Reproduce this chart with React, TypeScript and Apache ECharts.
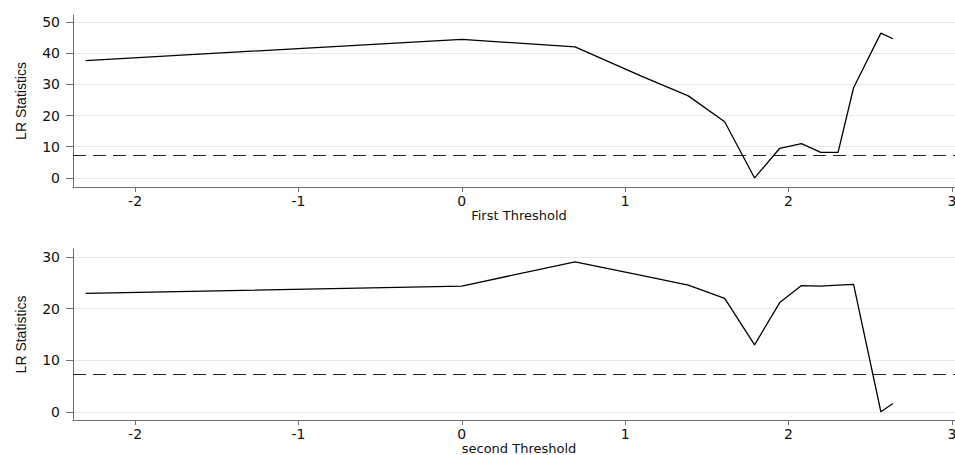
import React, { useEffect, useRef } from "react";
import * as echarts from "echarts";

// Threshold grid (log scale values)
const thresholds = [-2.303, 0, 0.693, 1.099, 1.386, 1.609, 1.792, 1.946, 2.079, 2.197, 2.303, 2.398, 2.565, 2.639];
const firstLR = [37.6, 44.4, 42.0, 32.6, 26.3, 18.0, 0.0, 9.5, 11.0, 8.2, 8.2, 28.9, 46.4, 44.6];
const secondLR = [23.0, 24.4, 29.1, 26.5, 24.6, 22.0, 13.0, 21.2, 24.5, 24.4, 24.6, 24.75, 0.0, 1.6];
const criticalValue = 7.35;
const xTicks = [-2, -1, 0, 1, 2, 3];
const yTicksTop = [0, 10, 20, 30, 40, 50];
const yTicksBottom = [0, 10, 20, 30];
const xTitles = ["First Threshold", "second Threshold"];
const yTitle = "LR Statistics";

const labelFont = { fontFamily: "DejaVu Sans", fontSize: 14, color: "#111" };
const axisGray = "#707070";

function makeX(gridIndex: number, name: string, gap: number) {
  return {
    type: "value",
    gridIndex,
    min: -2.38,
    max: 3.08,
    name,
    nameLocation: "middle",
    nameGap: gap,
    nameTextStyle: { fontFamily: "DejaVu Sans", fontSize: 13, lineHeight: 13, color: "#111" },
    axisLine: { show: true, onZero: false, lineStyle: { color: axisGray, width: 1 } },
    axisTick: { show: true, length: 5, customValues: xTicks, lineStyle: { color: axisGray } },
    axisLabel: { show: true, margin: 7, customValues: xTicks, ...labelFont, showMinLabel: true, showMaxLabel: true },
    splitLine: { show: false },
  };
}

function makeY(gridIndex: number, min: number, max: number, ticks: number[]) {
  return {
    type: "value",
    gridIndex,
    min,
    max,
    name: yTitle,
    nameLocation: "middle",
    nameGap: 45,
    nameTextStyle: { fontFamily: "Liberation Sans", fontSize: 14, color: "#111" },
    axisLine: { show: true, onZero: false, lineStyle: { color: axisGray, width: 1 } },
    axisTick: { show: true, length: 7, customValues: ticks, lineStyle: { color: axisGray } },
    axisLabel: { show: true, margin: 13, customValues: ticks, ...labelFont },
    splitLine: { show: true, lineStyle: { color: "#e8e8e8", width: 1 } },
  };
}

function makeSeries(idx: number, values: number[]) {
  return {
    type: "line",
    xAxisIndex: idx,
    yAxisIndex: idx,
    data: thresholds.map((x, i) => [x, values[i]]),
    symbol: "none",
    lineStyle: { color: "#000", width: 1.3 },
    z: 3,
    markLine: {
      silent: true,
      symbol: "none",
      label: { show: false },
      lineStyle: { color: "#222", width: 1.2, type: [13, 7] },
      data: [{ yAxis: criticalValue }],
    },
  };
}

export default function App() {
  const ref = useRef<HTMLDivElement>(null);
  useEffect(() => {
    if (!ref.current) return;
    const chart = echarts.init(ref.current, null, { renderer: "svg" });
    chart.setOption({
      animation: false,
      backgroundColor: "#fff",
      grid: [
        { left: 73, top: 15, width: 892, height: 172, outerBoundsMode: "none", containLabel: false },
        { left: 73, top: 249, width: 892, height: 171, outerBoundsMode: "none", containLabel: false },
      ],
      xAxis: [makeX(0, xTitles[0], 19), makeX(1, xTitles[1], 14)],
      yAxis: [makeY(0, -2.9, 52.2, yTicksTop), makeY(1, -1.6, 31.6, yTicksBottom)],
      series: [makeSeries(0, firstLR), makeSeries(1, secondLR)],
    });
    return () => chart.dispose();
  }, []);
  return (
    <div
      ref={ref}
      style={{ position: "fixed", left: 0, top: 0, width: 955, height: 455, background: "#fff" }}
    />
  );
}
